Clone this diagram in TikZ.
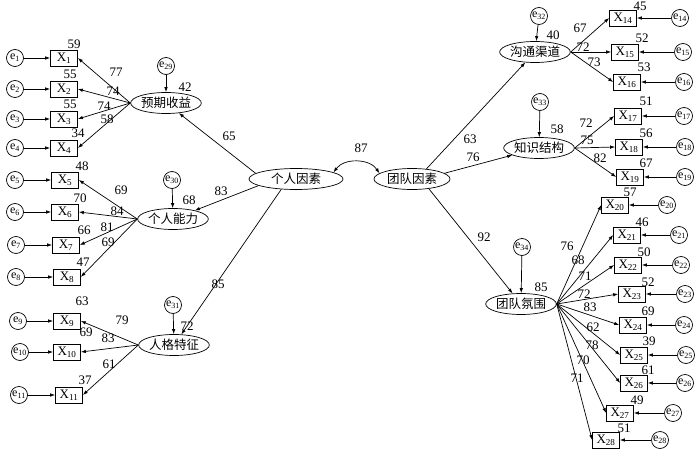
\documentclass[tikz,border=0pt]{standalone}
\usepackage{fontspec}
\setmainfont{Liberation Serif}
\newfontfamily\cjk{Noto Sans CJK SC}
\usetikzlibrary{shapes.geometric,arrows.meta,positioning}

\tikzset{
  obs/.style={draw, rectangle, line width=0.7pt, minimum width=27pt, minimum height=16pt, inner sep=0pt, font=\fontsize{13}{13}\selectfont},
  err/.style={draw, circle, line width=0.7pt, minimum size=17pt, inner sep=0pt, font=\fontsize{12}{12}\selectfont},
  lat/.style={draw, ellipse, line width=0.7pt, minimum width=58pt, minimum height=21pt, inner sep=0pt, font=\cjk\fontsize{12.5}{12.5}\selectfont},
  num/.style={inner sep=0pt, font=\fontsize{13}{13}\selectfont},
  arr/.style={line width=0.7pt, -{Latex[length=5pt,width=3.5pt]}},
  dbl/.style={line width=0.7pt, {Latex[length=5pt,width=3.5pt]}-{Latex[length=5pt,width=3.5pt]}}
}

\begin{document}
\begin{tikzpicture}[x=1pt, y=-1pt]
\useasboundingbox (0,0) rectangle (700,449);

% second-order factors
\node[lat, minimum width=94pt] (gr) at (296,179) {个人因素};
\node[lat, minimum width=76pt] (td) at (412,179) {团队因素};
\draw[dbl] (gr.10) to[bend left=55] (td.170);
\node[num] (c87) at (361,148) {87};

% first-order factors, left
\node[lat] (yq) at (166,103) {预期收益};
\node[lat] (nl) at (173,219) {个人能力};
\node[lat] (rg) at (174,345) {人格特征};
% first-order factors, right
\node[lat] (gt) at (535,52) {沟通渠道};
\node[lat] (zs) at (539,148) {知识结构};
\node[lat] (ta) at (521,304) {团队氛围};

% disturbances
\foreach \n/\f/\x/\y/\v/\vx/\vy in {29/yq/166/66/42/185/87, 30/nl/172/180/68/189/200,
  31/rg/173/305/72/187/326, 32/gt/539/16/40/553/35, 33/zs/540/102/58/557/129,
  34/ta/522/247/85/541/287}
{
  \node[err] (e\n) at (\x,\y) {e\textsubscript{\n}};
  \draw[arr] (e\n) -- (\f);
  \node[num] (r\n) at (\vx,\vy) {\v};
}

% structural paths
\draw[arr] (gr.172) -- (yq);
\draw[arr] (gr.190) -- (nl);
\draw[arr] (gr.215) -- (rg);
\draw[arr] (td.35) -- (gt);
\draw[arr] (td.10) -- (zs);
\draw[arr] (td.-30) -- (ta);
\node[num] (s65) at (229,136) {65};
\node[num] (s83) at (221,191) {83};
\node[num] (s85) at (218,284) {85};
\node[num] (s63) at (470,139) {63};
\node[num] (s76) at (473,157) {76};
\node[num] (s92) at (484,237) {92};

% indicators, left
\foreach \n/\x/\y/\ex/\v/\vx/\vy in {1/64/58/15/59/74/44, 2/64/89/15/55/70/74,
  3/64/119/15/55/70/104, 4/64/148/15/34/78/133, 5/65/180/15/48/82/166,
  6/65/212/15/70/80/198, 7/66/245/16/66/84/230, 8/67/277/16/47/83/262,
  9/67/321/18/63/82/301, 10/67/352/20/69/86/332, 11/69/395/19/37/85/380}
{
  \node[obs] (x\n) at (\x,\y) {X\textsubscript{\n}};
  \node[err] (e\n) at (\ex,\y) {e\textsubscript{\n}};
  \draw[arr] (e\n) -- (x\n);
  \node[num] (v\n) at (\vx,\vy) {\v};
}

% indicators, right
\foreach \n/\x/\y/\ex/\v/\vx/\vy in {14/623/18/680/45/640/6, 15/625/52/683/52/642/38,
  16/627/82/684/53/644/67, 17/628/116/684/51/646/101, 18/629/147/685/56/646/133,
  19/630/177/685/67/646/163, 20/615/205/667/57/630/192, 21/627/235/679/46/642/222,
  22/628/265/681/50/644/252, 23/632/294/685/52/648/282, 24/633/325/684/69/648/311,
  25/634/355/686/39/649/341, 26/634/383/685/61/648/370, 27/620/413/673/49/637/400,
  28/606/440/660/51/624/428}
{
  \node[obs] (x\n) at (\x,\y) {X\textsubscript{\n}};
  \node[err] (e\n) at (\ex,\y) {e\textsubscript{\n}};
  \draw[arr] (e\n) -- (x\n);
  \node[num] (v\n) at (\vx,\vy) {\v};
}

% loadings, left
\foreach \f/\n/\v/\lx/\ly in {yq/1/77/116/72, yq/2/74/113/91, yq/3/74/104/106, yq/4/58/107/119,
  nl/5/69/121/190, nl/6/84/117/211, nl/7/81/107/227, nl/8/69/108/242,
  rg/9/79/122/320, rg/10/83/108/338, rg/11/61/109/364}
{
  \draw[arr] (\f.west) -- (x\n.east);
  \node[num] (l\n) at (\lx,\ly) {\v};
}

% loadings, right
\foreach \f/\n/\v/\lx/\ly in {gt/14/67/580/28, gt/15/72/583/47, gt/16/73/594/62,
  zs/17/72/586/123, zs/18/75/587/140, zs/19/82/600/158,
  ta/20/76/567/246, ta/21/68/578/260, ta/22/71/585/276, ta/23/72/584/294,
  ta/24/83/590/307, ta/25/62/593/327, ta/26/78/592/345, ta/27/70/583/360, ta/28/71/577/378}
{
  \draw[arr] (\f.east) -- (x\n.west);
  \node[num] (l\n) at (\lx,\ly) {\v};
}
\end{tikzpicture}
\end{document}
